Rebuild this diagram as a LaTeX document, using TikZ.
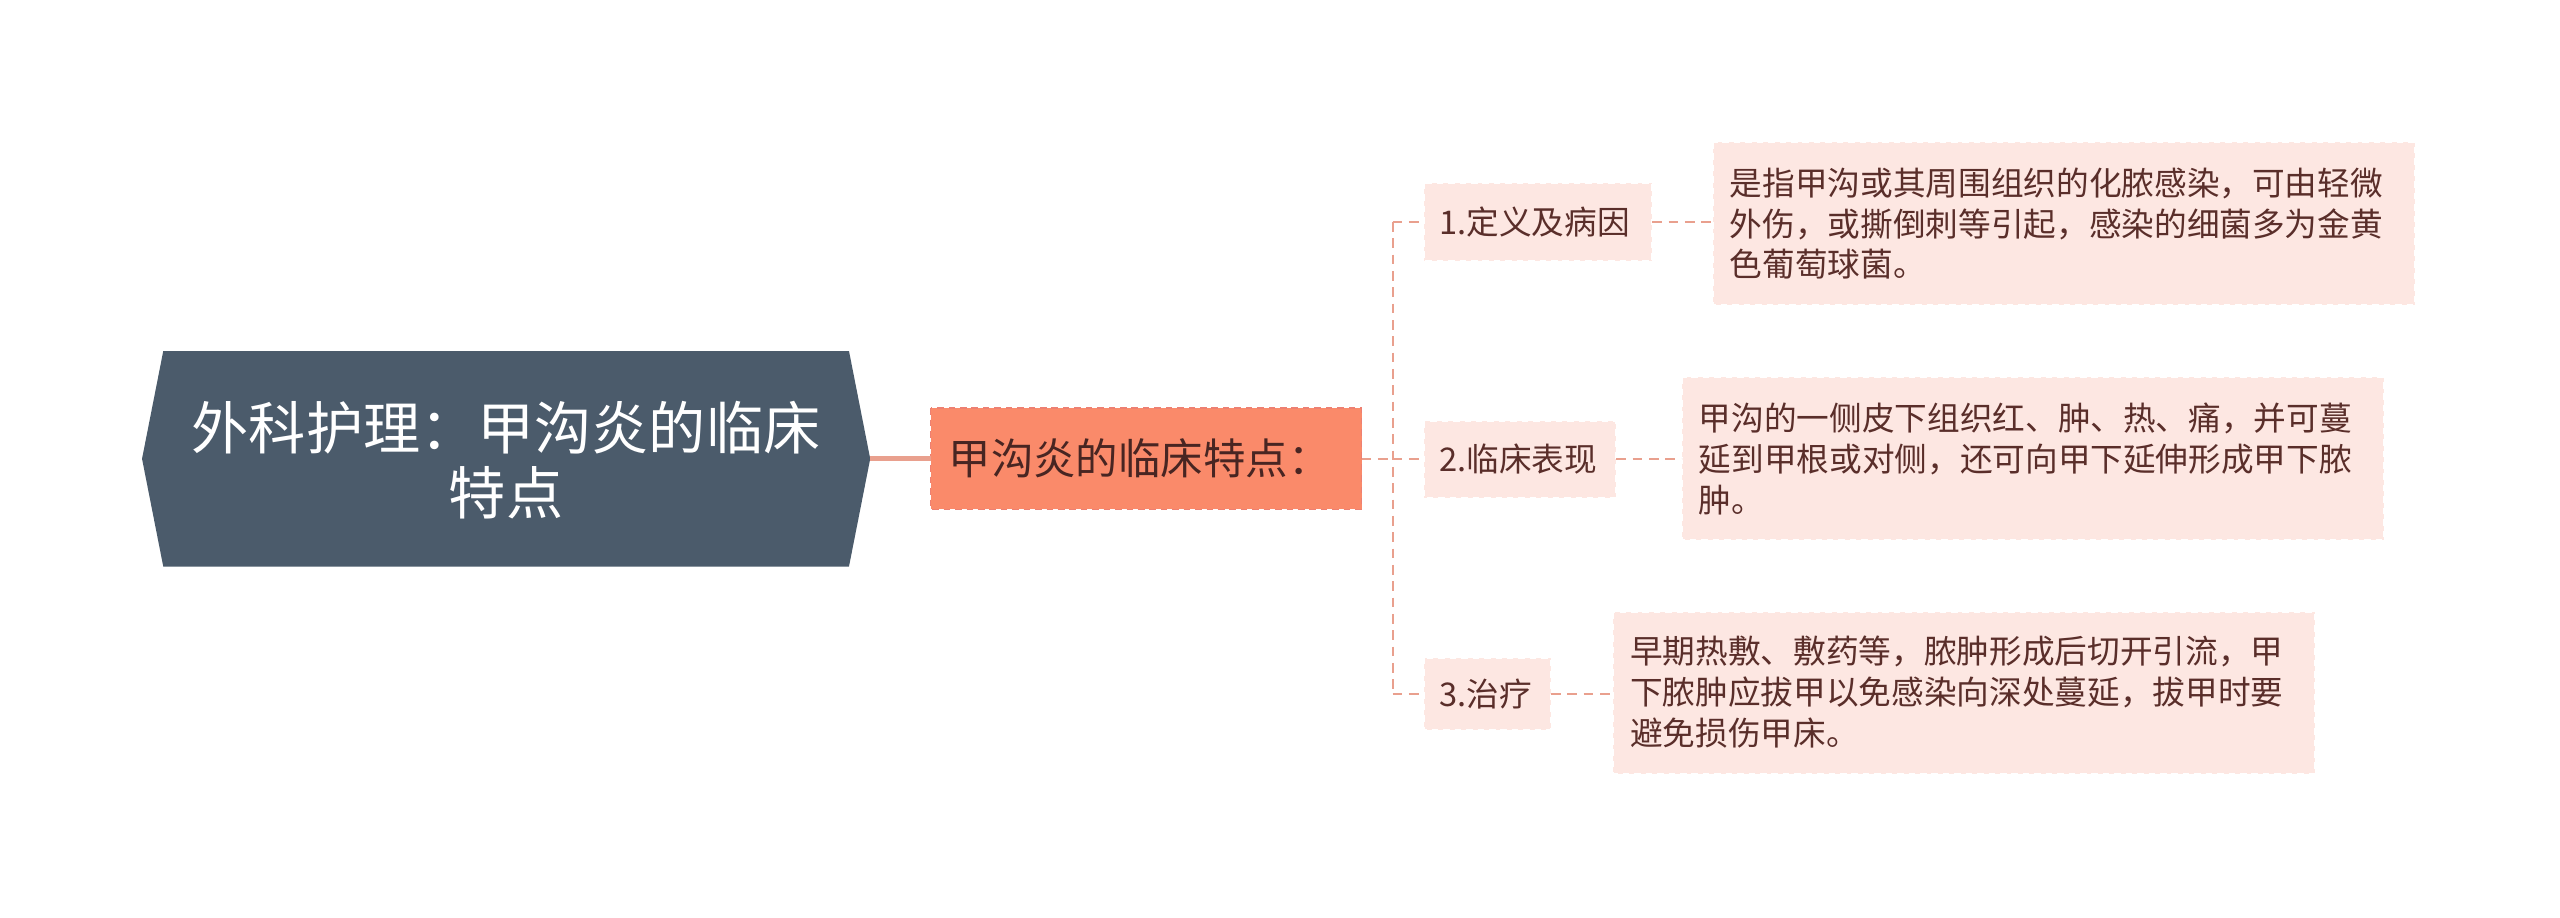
\documentclass[tikz,border=0pt]{standalone}
\usepackage{fontspec}
\setmainfont{Noto Sans CJK SC}
\begin{document}
\begin{tikzpicture}[x=1pt,y=-1pt,
 ln/.style={draw=lnc,line width=1.3pt,dash pattern=on 6pt off 4pt},
 pk/.style={fill=pkf,draw=white,line width=1.2pt,dash pattern=on 4pt off 3pt},
 txt/.style={font=\fontsize{20}{25}\selectfont,text=txc,align=left,anchor=west}]
\definecolor{lnc}{HTML}{E9A08E}
\definecolor{pkf}{HTML}{FDE7E2}
\definecolor{txc}{HTML}{5A2E2A}
\definecolor{rootc}{HTML}{4B5B6B}
\definecolor{midc}{HTML}{FA8A6A}
\useasboundingbox (0,0) rectangle (1568,562);
\fill[white] (0,0) rectangle (1568,562);
% root
\fill[rootc] (100,215) -- (520,215) -- (533,281) -- (520,347) -- (100,347) -- (87,281) -- cycle;
\node (root) at (310,282) [font=\fontsize{35}{40}\selectfont,text=white,align=center] {外科护理：甲沟炎的临床\\特点};
\coordinate (rr) at (533,281);
% mid
\draw[fill=midc,draw=lnc!80!red,line width=1pt,dash pattern=on 4pt off 3pt] (570,250) rectangle (834,312);
\node (mid) at (698,281) [font=\fontsize{26}{30}\selectfont,text=txc!80!black] {甲沟炎的临床特点：};
\coordinate (ml) at (570,281);
\coordinate (mr) at (834,281);
\draw[lnc,line width=3pt] (rr) -- (ml);
% branches
\draw[pk] (872,112) rectangle (1012,160);
\node[txt] (b1) at (878,136) {1.定义及病因};
\draw[pk] (872,258) rectangle (990,305);
\node[txt] (b2) at (878,281) {2.临床表现};
\draw[pk] (872,403) rectangle (950,447);
\node[txt] (b3) at (878,425) {3.治疗};
\coordinate (j) at (853,281);
\draw[ln] (mr) -- (j);
\draw[ln] (853,136) -- (853,425);
\draw[ln] (853,136) -- (872,136);
\draw[ln] (853,281) -- (872,281);
\draw[ln] (853,425) -- (872,425);
% leaves
\draw[pk] (1049,87) rectangle (1479,187);
\node[txt] (l1) at (1056,137) {是指甲沟或其周围组织的化脓感染，可由轻微\\外伤，或撕倒刺等引起，感染的细菌多为金黄\\色葡萄球菌。};
\draw[pk] (1030,231) rectangle (1460,331);
\node[txt] (l2) at (1037,281) {甲沟的一侧皮下组织红、肿、热、痛，并可蔓\\延到甲根或对侧，还可向甲下延伸形成甲下脓\\肿。};
\draw[pk] (988,375) rectangle (1418,474);
\node[txt] (l3) at (995,424) {早期热敷、敷药等，脓肿形成后切开引流，甲\\下脓肿应拔甲以免感染向深处蔓延，拔甲时要\\避免损伤甲床。};
\draw[ln] (1012,136) -- (1049,136);
\draw[ln] (990,281) -- (1030,281);
\draw[ln] (950,425) -- (988,425);
\end{tikzpicture}
\end{document}
